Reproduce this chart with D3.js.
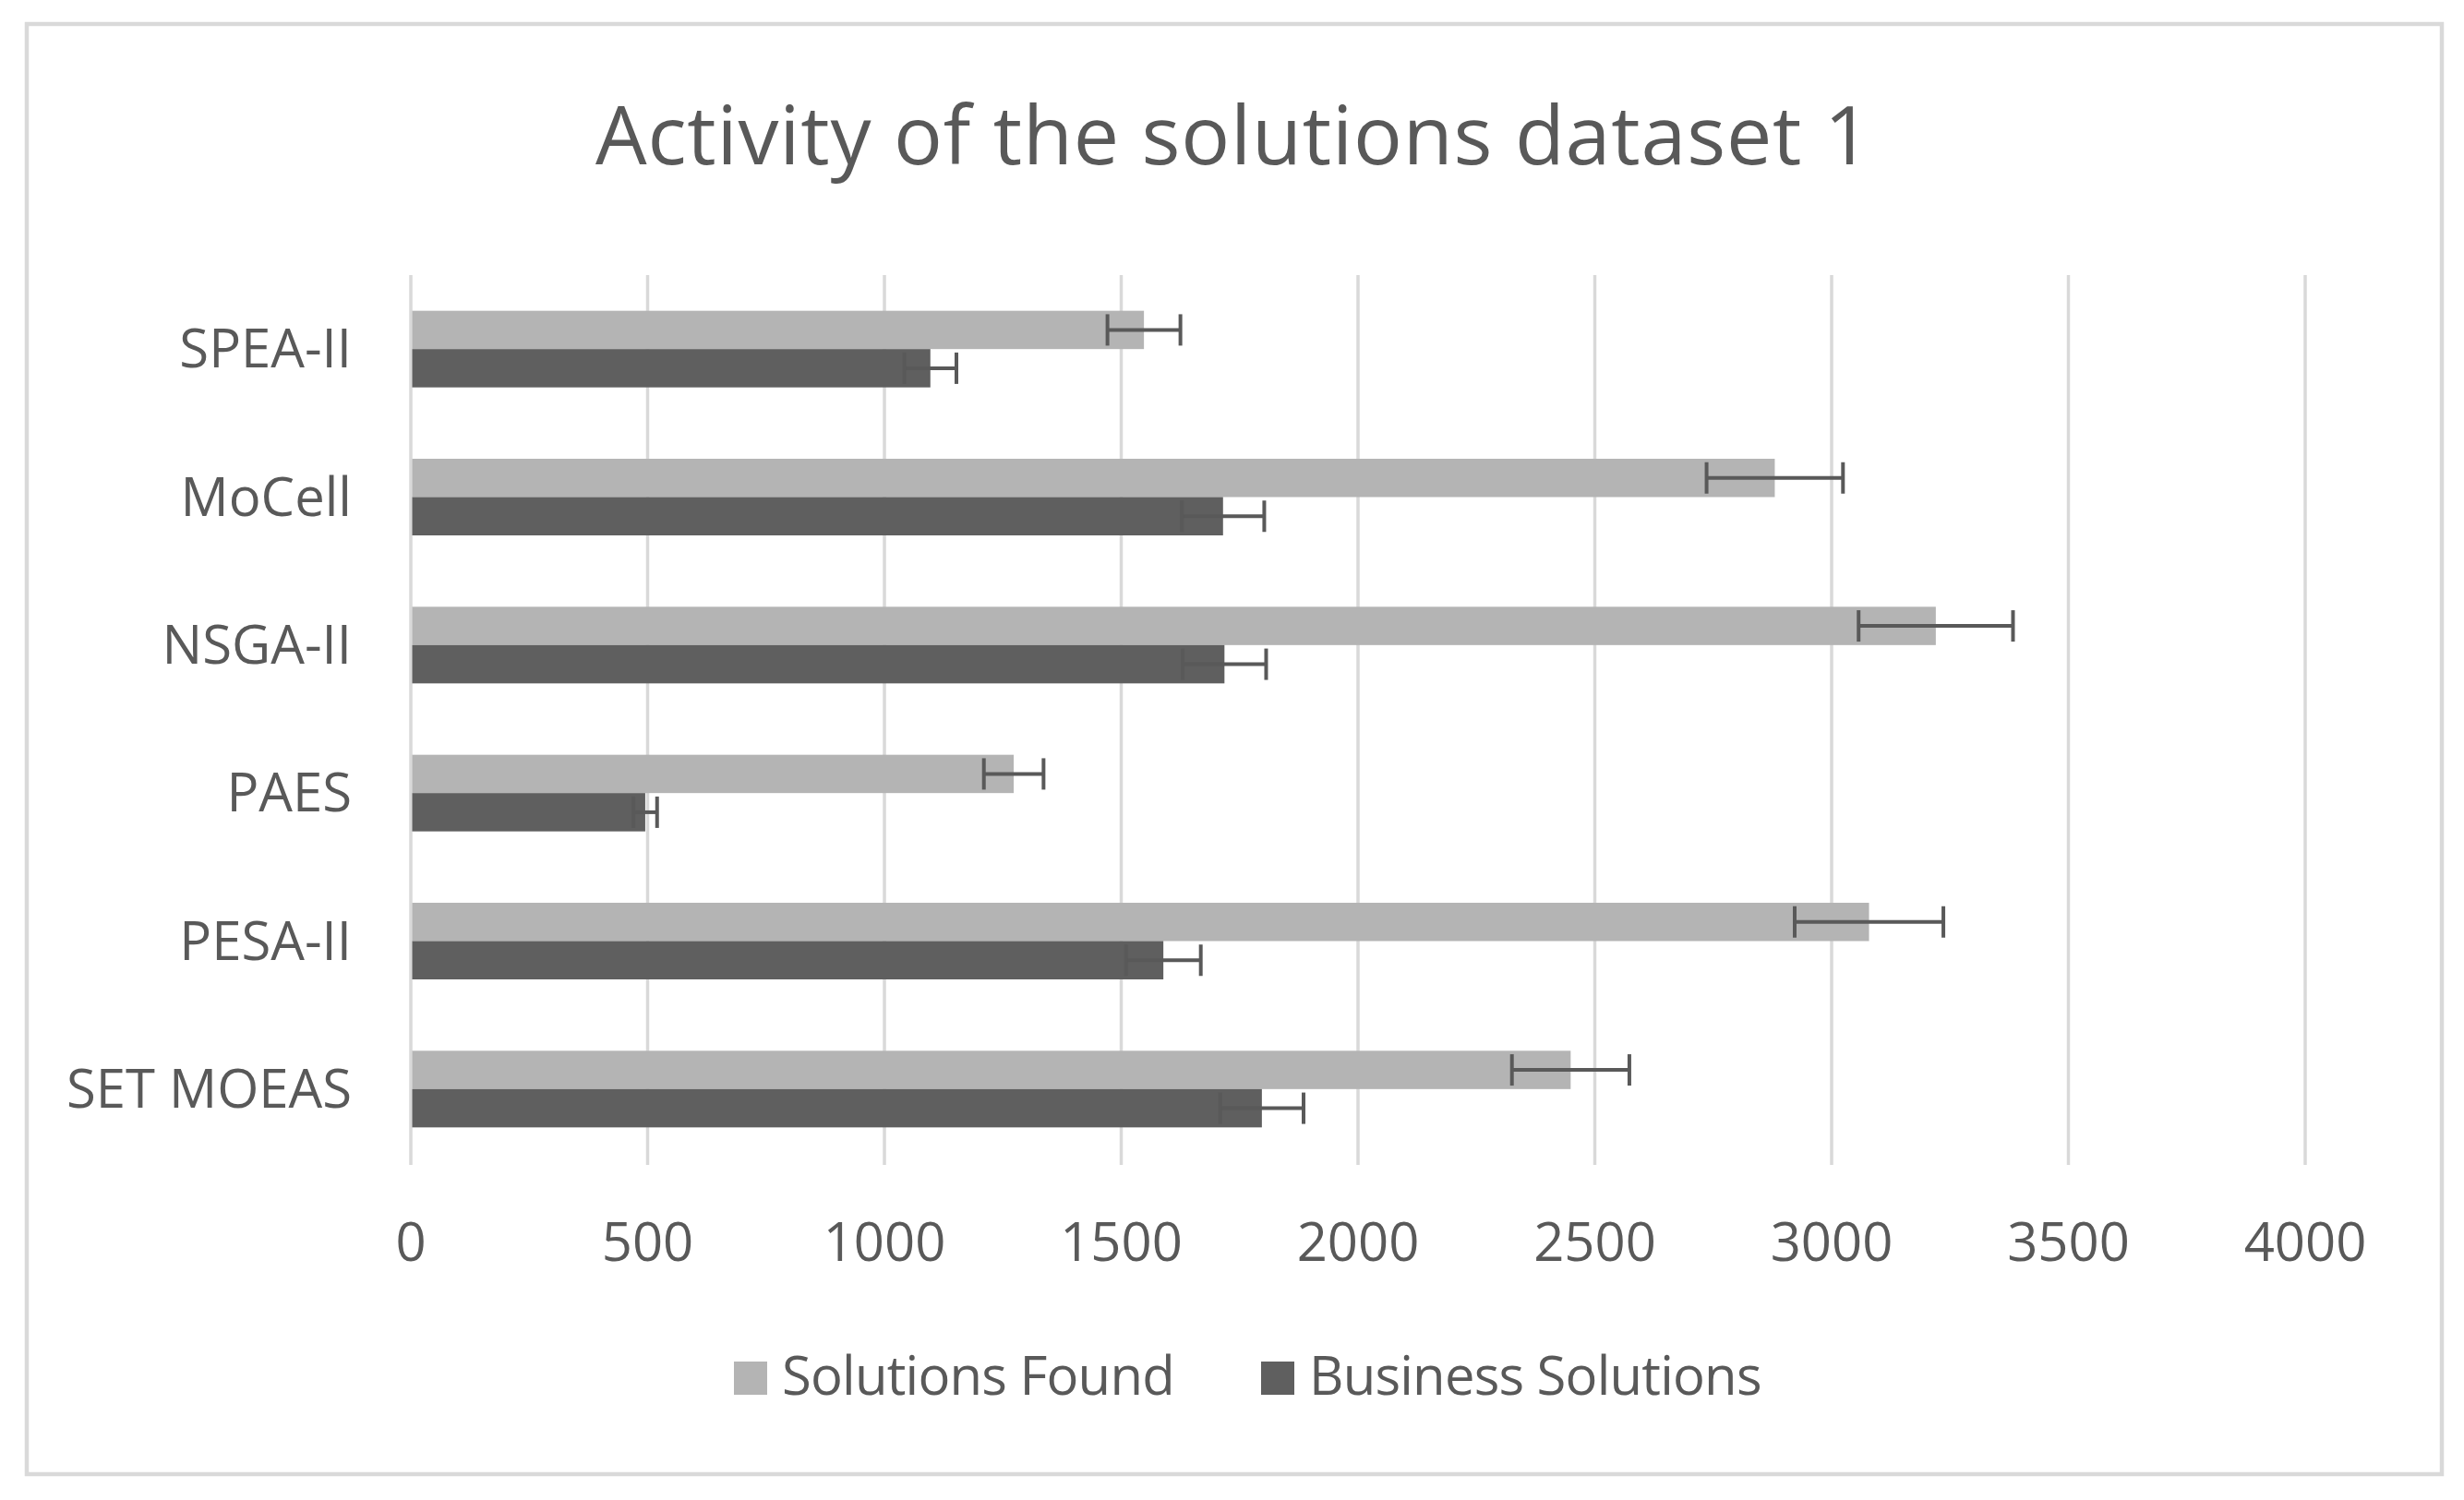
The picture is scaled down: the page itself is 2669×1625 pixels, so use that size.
<!DOCTYPE html>
<html>
<head>
<meta charset="utf-8">
<script src="https://cdn.jsdelivr.net/npm/d3@7"></script>
<style>
  html, body { margin: 0; padding: 0; background: #fff; }
  text { font-family: "Open Sans", sans-serif; fill: #595959; }
</style>
</head>
<body>
<div id="chart"></div>
<script>
// data
const categories = ["SPEA-II", "MoCell", "NSGA-II", "PAES", "PESA-II", "SET MOEAS"];
const seriesNames = ["Solutions Found", "Business Solutions"];
const solutionsFound = [1548, 2880, 3220, 1273, 3079, 2449];
const solutionsFoundErr = [77, 144, 163, 63, 157, 124];
const businessSolutions = [1097, 1715, 1718, 495, 1589, 1797];
const businessSolutionsErr = [55, 87, 88, 25, 79, 88];
const xTicks = [0, 500, 1000, 1500, 2000, 2500, 3000, 3500, 4000];
const title = "Activity of the solutions dataset 1";

const W = 2669, H = 1625;
const colors = ["#b4b4b4", "#5f5f5f"];

const svg = d3.select("#chart").append("svg")
  .attr("width", W).attr("height", H);

// outer border
svg.append("rect")
  .attr("x", 29).attr("y", 26)
  .attr("width", 2616).attr("height", 1571)
  .attr("fill", "#fff")
  .attr("stroke", "#d9d9d9")
  .attr("stroke-width", 4.5);

// title
svg.append("text")
  .attr("x", 1336).attr("y", 178)
  .attr("text-anchor", "middle")
  .style("font-size", "88px")
  .style("letter-spacing", "0.8px")
  .text(title);

// scales
const x = d3.scaleLinear().domain([0, 4000]).range([445, 2497]);
const y = d3.scaleBand().domain(categories).range([298, 1260]);
const barH = 41.5;

// gridlines
svg.append("g").selectAll("line")
  .data(xTicks).join("line")
  .attr("x1", d => x(d)).attr("x2", d => x(d))
  .attr("y1", 298).attr("y2", 1262)
  .attr("stroke", "#d9d9d9")
  .attr("stroke-width", 3.5);

// tick labels
svg.append("g").selectAll("text")
  .data(xTicks).join("text")
  .attr("x", d => x(d)).attr("y", 1366)
  .attr("text-anchor", "middle")
  .style("font-size", "58px")
  .text(d => d);

// category labels
svg.append("g").selectAll("text")
  .data(categories).join("text")
  .attr("x", 381)
  .attr("y", d => y(d) + y.bandwidth() / 2 + 20)
  .attr("text-anchor", "end")
  .style("font-size", "58px")
  .text(d => d);

// bars + error bars
const series = [
  { vals: solutionsFound, errs: solutionsFoundErr, off: -barH },
  { vals: businessSolutions, errs: businessSolutionsErr, off: 0 }
];

series.forEach((s, i) => {
  const g = svg.append("g");
  g.selectAll("rect")
    .data(categories).join("rect")
    .attr("x", x(0) + 1.5)
    .attr("y", d => y(d) + y.bandwidth() / 2 + s.off)
    .attr("width", (d, j) => x(s.vals[j]) - x(0) - 1.5)
    .attr("height", barH)
    .attr("fill", colors[i]);

  const eb = svg.append("g")
    .attr("stroke", "#595959")
    .attr("stroke-width", 4);
  categories.forEach((c, j) => {
    const cy = y(c) + y.bandwidth() / 2 + s.off + barH / 2;
    const lo = x(s.vals[j] - s.errs[j]), hi = x(s.vals[j] + s.errs[j]);
    eb.append("line").attr("x1", lo).attr("x2", hi).attr("y1", cy).attr("y2", cy);
    eb.append("line").attr("x1", lo).attr("x2", lo).attr("y1", cy - 17).attr("y2", cy + 17);
    eb.append("line").attr("x1", hi).attr("x2", hi).attr("y1", cy - 17).attr("y2", cy + 17);
  });
});

// legend
const legendX = [795, 1366];
const legend = svg.append("g");
seriesNames.forEach((n, i) => {
  legend.append("rect")
    .attr("x", legendX[i]).attr("y", 1475)
    .attr("width", 36).attr("height", 36)
    .attr("fill", colors[i]);
  legend.append("text")
    .attr("x", legendX[i] + 52).attr("y", 1511)
    .style("font-size", "58px")
    .style("letter-spacing", "-0.8px")
    .text(n);
});
</script>
</body>
</html>
